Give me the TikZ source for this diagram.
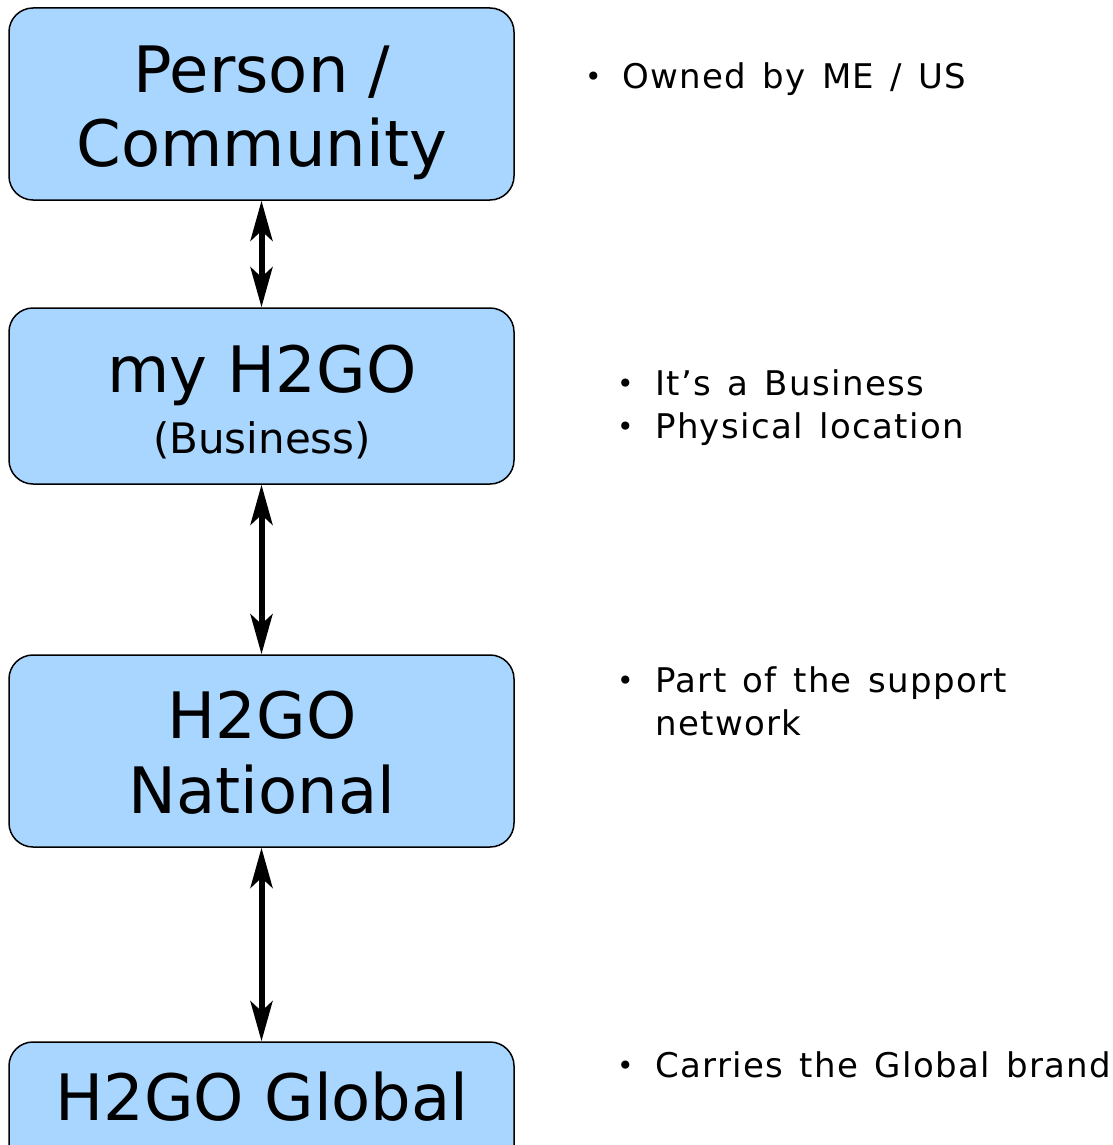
\documentclass[tikz,border=0pt]{standalone}
\usepackage{fontspec}
\setmainfont{DejaVu Sans}
\newfontfamily\bulfont[LetterSpace=4,WordSpace=1.35]{DejaVu Sans}
\usetikzlibrary{arrows.meta}
\definecolor{boxblue}{RGB}{169,214,254}
\begin{document}
\begin{tikzpicture}[x=1pt,y=-1pt,
  box/.style={draw=black, line width=1.5pt, fill=boxblue, rounded corners=24pt, minimum width=505pt, inner sep=0pt},
  big/.style={font=\fontsize{64}{70}\selectfont, anchor=base, inner sep=0pt},
  small/.style={font=\fontsize{42}{46}\selectfont, anchor=base, inner sep=0pt},
  bul/.style={font=\bulfont\fontsize{34}{40}\selectfont, anchor=base west, inner sep=0pt},
  dot/.style={font=\fontsize{28}{32}\selectfont, anchor=base west, inner sep=0pt},
  link/.style={line width=6pt, {Stealth[length=40pt,width=22pt,inset=10pt]}-{Stealth[length=40pt,width=22pt,inset=10pt]}}
]
\useasboundingbox (0,0) rectangle (1112,1145);
\clip (0,0) rectangle (1112,1145);
\node[box, minimum height=192pt] (b1) at (261.5,104) {};
\node[box, minimum height=176pt] (b2) at (261.5,396) {};
\node[box, minimum height=192pt] (b3) at (261.5,751) {};
\node[box, minimum height=134pt] (b4) at (261.5,1109) {};

\node[big] (t1a) at (262,93) {Person /};
\node[big] (t1b) at (262,166) {Community};
\node[big] (t2a) at (262,392) {my H2GO};
\node[small] (t2b) at (262,453) {(Business)};
\node[big] (t3a) at (262,738) {H2GO};
\node[big] (t3b) at (262,813) {National};
\node[big] (t4) at (262,1120) {H2GO Global};

\draw[link] (b1.south) -- (b2.north);
\draw[link] (b2.south) -- (b3.north);
\draw[link] (b3.south) -- (b4.north);

\node[dot] (d1) at (585,87) {•};
\node[bul] (n1) at (622,89) {Owned by ME / US};
\node[dot] (d2) at (617,393) {•};
\node[bul] (n2) at (655,395) {It’s a Business};
\node[dot] (d3) at (617,436) {•};
\node[bul] (n3) at (655,438) {Physical location};
\node[dot] (d4) at (617,690) {•};
\node[bul] (n4) at (655,692) {Part of the support};
\node[bul] (n4b) at (655,735) {network};
\node[dot] (d5) at (617,1075) {•};
\node[bul] (n5) at (655,1077) {Carries the Global brand};
\end{tikzpicture}
\end{document}
